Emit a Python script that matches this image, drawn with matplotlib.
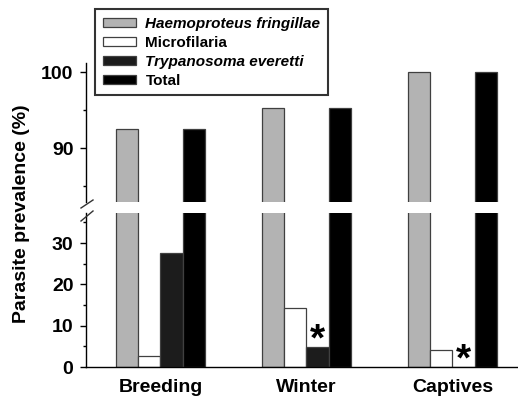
import numpy as np
import matplotlib.pyplot as plt
from matplotlib.ticker import MultipleLocator

plt.rcParams['font.family'] = ['Liberation Sans', 'DejaVu Sans']
plt.rcParams['font.weight'] = 'bold'

groups = ['Breeding', 'Winter', 'Captives']
haemo = [92.5, 95.3, 100.0]
micro = [2.7, 14.3, 4.0]
trypano = [27.6, 4.8, 0.0]
total = [92.5, 95.3, 100.0]
series_names = ['Haemoproteus fringillae', 'Microfilaria', 'Trypanosoma everetti', 'Total']
# groups where Trypanosoma differs (asterisk)
star_groups = [1, 2]

colors = ['#b3b3b3', 'white', '#1c1c1c', 'black']
series = [haemo, micro, trypano, total]

fig = plt.figure(figsize=(5.18, 4.0), dpi=100)
ax_top = fig.add_axes([0.166, 0.495, 0.834, 0.3475])
ax_bot = fig.add_axes([0.166, 0.0825, 0.834, 0.385])

x = np.arange(len(groups))
w = 0.152
offsets = [-1.5 * w, -0.5 * w, 0.5 * w, 1.5 * w]

handles = []
for ax in (ax_top, ax_bot):
    for vals, off, c, name in zip(series, offsets, colors, series_names):
        b = ax.bar(x + off, vals, w, color=c, edgecolor='#404040', linewidth=0.9,
                   label=name)
        if ax is ax_top:
            handles.append(b)

ax_top.set_ylim(82.9, 101.2)
ax_bot.set_ylim(0, 37.3)
for ax in (ax_top, ax_bot):
    ax.set_xlim(-0.51, 2.45)
    ax.spines['top'].set_visible(False)
    ax.spines['right'].set_visible(False)
    ax.spines['left'].set_linewidth(1.0)
    ax.yaxis.set_minor_locator(MultipleLocator(5))
    ax.tick_params(axis='y', which='major', direction='out', length=4, width=1,
                   labelsize=14, pad=5)
    ax.tick_params(axis='y', which='minor', direction='out', length=2.5, width=1)
    ax.set_facecolor('none')

ax_top.spines['bottom'].set_visible(False)
ax_top.set_yticks([90, 100])
ax_top.set_xticks([])
ax_bot.set_yticks([0, 10, 20, 30])
ax_bot.set_xticks(x)
ax_bot.set_xticklabels(groups, fontsize=14, fontweight='bold')
ax_bot.tick_params(axis='x', length=0, pad=9)
ax_bot.spines['bottom'].set_linewidth(1.0)

for lab in ax_top.get_yticklabels() + ax_bot.get_yticklabels():
    lab.set_fontweight('bold')

# break marks on the left spine
kw = dict(transform=fig.transFigure, color='#333333', linewidth=1.0, clip_on=False)
x0, x1 = 81 / 518, 93 / 518
fig.add_artist(plt.Line2D([x0, x1], [1 - 208 / 400, 1 - 200 / 400], **kw))
fig.add_artist(plt.Line2D([x0, x1], [1 - 221 / 400, 1 - 211 / 400], **kw))

# asterisks
for g in star_groups:
    ax_bot.text(x[g] + offsets[2], trypano[g] + 1.6, '*', ha='center', va='center',
                fontsize=28, fontweight='bold')

fig.text(0.042, 1 - 214 / 400, 'Parasite prevalence (%)', rotation=90,
         ha='center', va='center', fontsize=14, fontweight='bold')

leg = ax_top.legend(handles=handles, loc='upper left',
                    bbox_to_anchor=(95 / 518, 1 - 9 / 400),
                    bbox_transform=fig.transFigure, fontsize=11, frameon=True,
                    fancybox=False, handlelength=2.2, handleheight=0.55,
                    labelspacing=0.33, borderpad=0.5, handletextpad=0.6,
                    borderaxespad=0)
leg.get_frame().set_edgecolor('black')
leg.get_frame().set_linewidth(1.5)
for i, t in enumerate(leg.get_texts()):
    t.set_fontweight('bold')
    if i in (0, 2):
        t.set_fontstyle('italic')

fig.savefig('out.png', dpi=100, facecolor='white')
